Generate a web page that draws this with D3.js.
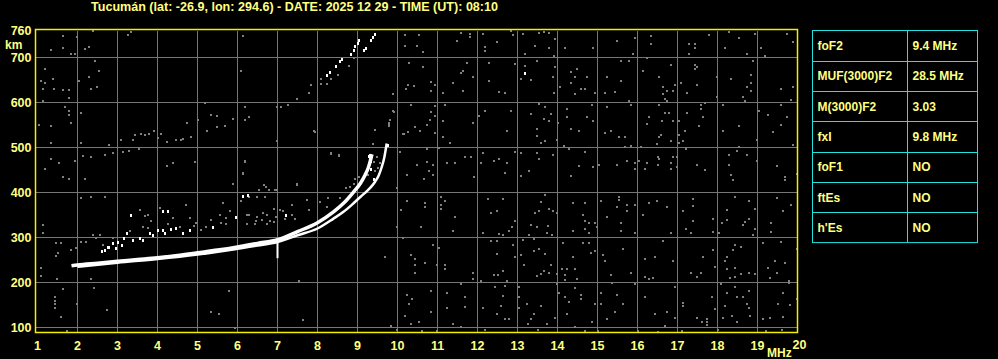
<!DOCTYPE html>
<html>
<head>
<script src="https://d3js.org/d3.v7.min.js"></script>
<style>
  body{margin:0;background:#000;}
  svg{display:block;}
  text{font-family:"Liberation Sans",Arial,sans-serif;font-weight:bold;fill:#ffff80;}
</style>
</head>
<body>
<svg id="chart" width="998" height="359"></svg>
<script>
// ---- data ----
const titleText = "Tucumán (lat: -26.9, lon: 294.6) - DATE: 2025 12 29 - TIME (UT): 08:10";
const xTicks = [1,2,3,4,5,6,7,8,9,10,11,12,13,14,15,16,17,18,19,20];
const yTicks = [100,200,300,400,500,600,700];
const yTop = 760;

const paramNames  = ["foF2","MUF(3000)F2","M(3000)F2","fxI","foF1","ftEs","h'Es"];
const paramValues = ["9.4 MHz","28.5 MHz","3.03","9.8 MHz","NO","NO","NO"];

// ordinary trace [MHz, km]
const oTrace = [[1.85,237],[2.0,239],[2.5,243],[3.0,247],[3.5,251],[4.0,255],[4.5,260],[5.0,266],
  [5.5,272],[6.0,279],[6.5,287],[7.0,295],[7.5,313],[8.0,333],[8.4,357],[8.65,376],[8.9,401],
  [9.07,420],[9.19,439],[9.27,455],[9.32,470],[9.36,485]];
// extraordinary trace
const xTrace = [[2.0,235],[3.0,244],[4.0,252],[5.0,262],[6.0,275],[6.5,282],[7.0,290],[7.5,305],
  [8.0,320],[8.4,342],[8.65,357],[8.9,376],[9.07,390],[9.28,407],[9.44,424],[9.53,438],[9.6,455],
  [9.67,478],[9.73,509]];
// vertical spike at 7 MHz [MHz, kmFrom, kmTo]
const spike = [7.0,254,298];

// second hop (white)
const hopWhite = [[8.23,661],[8.3,668],[8.46,681],[8.57,693],[8.6,697],[8.83,708],[8.9,716],[8.94,725],
  [9.0,733],[9.03,739],[9.17,716],[9.2,720],[9.33,738],[9.38,745],[9.43,753],[9.3,483],[9.33,470],
  [9.75,505],[9.29,482]];
// spread echoes (white)
const spreadWhite = [[3.34,350],[3.23,310],[3.01,291],[2.88,287],[2.68,273],[2.76,280],[2.97,276],
  [3.15,299],[3.38,295],[3.55,299],[3.63,295],[3.8,310],[3.88,306],[4.01,317],[4.13,317],[4.18,310],
  [4.34,319],[4.47,321],[4.63,310],[4.8,317],[5.38,324],[5.97,345],[6.13,393],[6.26,395],[4.13,358],
  [4.26,358],[2.8,279],[3.1,283],[2.6,270],[13.19,666],[7.2,349],[9.33,452],[9.42,430]];

// gray echoes / noise [MHz, km]
const noiseGray = [
  // 1-10 MHz, upper
  [1.63,747],[1.33,717],[1.63,721],[1.83,708],[1.94,708],[1.98,745],[2.19,719],[2.28,724],[2.38,759],
  [3.25,749],[3.33,756],[6.13,747],[1.18,675],[1.08,647],[1.18,643],[1.38,653],[1.13,630],[1.42,630],
  [1.63,628],[1.78,627],[1.78,610],[1.13,603],[2.03,647],[2.28,656],[2.43,692],[2.53,671],[2.33,630],
  [2.48,634],[6.08,670],[7.83,638],[7.79,621],[7.48,608],[8.08,653],[8.33,653],[8.5,660],[8.79,682],
  [8.08,640],[8.23,640],[8.9,700],[9.2,722],
  [3.08,516],[3.38,517],[3.43,527],[3.58,530],[3.69,527],[3.79,530],[3.92,536],[4.08,530],[4.02,521],
  [4.23,512],[4.46,516],[4.58,516],[4.63,519],[4.83,524],[4.73,554],[5.02,560],[5.23,536],[5.33,573],
  [5.48,571],[5.48,545],[5.68,547],[5.88,564],[6.19,590],[6.29,567],[6.99,591],[7.08,590],[7.27,595],
  [1.03,551],[1.33,547],[1.33,510],[1.78,582],[1.78,573],[1.69,590],[1.83,554],[2.08,576],[2.08,510],
  [2.78,506],[2.69,484],[2.88,487],[3.14,490],[2.13,482],[2.33,479],[1.33,475],[1.53,465],[1.18,453],
  [1.94,470],[1.63,434],[1.78,430],[2.19,430],[4.23,460],[4.38,465],[4.94,467],[3.53,497],[3.28,492],
  [5.18,599],[6.18,471],[6.13,444],[5.88,420],[6.67,416],[6.98,514],[7.92,536],[8.33,487],[8.53,484],
  [7.48,420],[9.88,618],[9.88,582],[9.43,540],[9.38,508],[9.82,560],[9.78,548],[9.78,555],
  // 6-10 MHz, middle
  [6.28,568],[6.19,561],[7.94,535],[8.33,485],[8.54,481],[6.19,468],[6.13,442],[7.48,416],[8.82,413],
  [6.53,405],[6.78,405],[6.94,405],[6.48,390],[6.69,390],[7.73,383],[8.07,379],[8.23,368],[8.27,387],
  [8.57,387],[7.36,372],[7.78,361],[6.9,364],[7.07,361],[6.23,350],[6.48,346],[6.61,339],[6.73,350],
  [7.19,342],[7.36,350],[7.44,342],[6.9,335],[6.44,331],[6.23,331],[6.73,331],[9.03,435],[9.19,442],
  [9.33,450],[9.44,447],[9.4,468],[9.48,479],[9.44,538],[9.78,553],[9.9,579],[10.15,531],[10.07,490],
  [9.98,409],[9.98,324],[9.69,257],[8.9,420],[8.7,410],[8.95,430],[9.5,455],[9.55,465],[9.25,440],
  // spread F gray
  [2.09,291],[2.22,289],[2.38,306],[2.55,306],[2.63,284],[1.97,276],[1.84,273],[1.47,287],[1.59,287],
  [1.51,265],[1.47,258],[1.13,328],[1.13,310],[2.88,299],[3.63,324],[3.76,321],[3.84,336],[3.68,347],
  [3.55,361],[3.76,350],[4.05,365],[4.38,343],[4.55,324],[4.8,343],[4.72,373],[4.97,332],[5.09,317],
  [5.22,324],[5.34,339],[5.55,350],[5.72,343],[5.59,332],[5.8,358],[5.88,419],[6.09,380],[6.3,350],
  [6.47,336],[6.63,354],[6.8,336],[6.97,345],[7.13,358],[6.72,413],[6.97,406],[6.3,391],[5.63,376],
  [2.68,390],[2.34,390],[2.09,387],[2.45,300],[3.3,315],[4.25,330],[4.9,325],[5.7,330],
  // 1-10 MHz, lower
  [1.08,233],[1.08,215],[1.44,167],[1.44,159],[1.44,152],[1.44,144],[1.48,207],[1.63,185],[1.58,124],
  [1.73,92],[1.98,153],[2.33,207],[2.42,188],[2.73,139],[5.33,135],[5.54,130],[5.79,181],[5.94,98],
  [7.54,204],[7.63,116],[9.83,103],[9.98,94],
  // 10-15 MHz, upper
  [10.19,749],[10.53,751],[10.19,725],[10.48,725],[10.63,712],[11.58,755],[11.8,745],[11.8,752],
  [11.48,736],[12.13,752],[12.2,724],[12.2,714],[12.48,734],[12.83,759],[12.88,749],[13.13,753],
  [13.44,725],[13.53,755],[13.65,756],[13.78,754],[13.94,741],[13.79,721],[13.19,708],[13.92,703],
  [14.19,721],[14.88,721],
  [10.29,688],[10.63,679],[10.83,645],[10.94,638],[10.27,638],[10.42,636],[10.22,630],[10.83,625],
  [11.38,644],[11.59,666],[11.63,671],[11.73,688],[11.88,656],[11.63,625],[11.13,621],[12.28,688],
  [12.28,647],[12.54,623],[12.69,621],[12.93,686],[13.19,681],[13.09,653],[13.33,649],[13.48,692],
  [13.94,679],[13.88,656],[13.9,621],[14.33,667],[14.48,674],[14.44,656],[14.73,656],[14.07,634],
  [14.34,644],[14.59,629],[14.69,629],[14.44,619],[14.94,621],
  [10.34,595],[10.94,592],[10.84,580],[10.94,571],[10.8,562],[10.73,549],[10.44,545],[10.57,536],
  [10.13,529],[10.27,534],[10.94,532],[11.19,595],[11.13,559],[11.13,523],[11.3,510],[11.88,554],
  [12.03,570],[12.19,581],[12.84,581],[12.73,536],[13.33,575],[13.54,597],[13.69,590],[13.65,564],
  [13.83,575],[13.79,559],[13.48,541],[13.48,525],[13.59,510],[13.69,515],[13.98,517],[14.02,554],
  [14.23,586],[14.23,567],[14.34,541],[14.54,536],[14.73,567],[14.88,559],[14.87,595],[14.15,504],
  [10.73,497],[10.48,461],[10.73,467],[10.88,461],[10.78,447],[10.23,439],[10.88,439],[10.65,430],
  [11.03,499],[11.23,465],[11.44,465],[11.69,479],[11.83,479],[11.9,434],[12.13,487],[12.09,465],
  [12.4,471],[12.54,474],[12.73,465],[12.69,444],[12.94,490],[13.09,487],[13.48,487],[13.53,474],
  [13.29,447],[13.09,436],[13.88,484],[14.29,496],[14.69,490],[14.54,460],[14.33,436],[14.88,456],
  // 10-15 MHz, lower
  [10.23,381],[10.69,377],[10.69,368],[11.08,390],[11.08,372],[11.19,381],[11.08,363],[11.44,346],
  [11.38,315],[10.59,324],[10.09,361],[10.13,300],[12.25,385],[12.63,385],[12.34,355],[12.48,359],
  [12.94,337],[12.86,324],[12.78,314],[12.13,310],[12.54,307],[12.63,305],[13.69,394],[13.58,379],
  [13.43,355],[13.53,359],[13.79,363],[13.88,359],[13.98,355],[13.33,327],[13.48,324],[13.77,326],
  [13.73,310],[13.86,305],[13.29,305],[14.38,377],[14.69,377],[14.63,350],[14.69,337],[14.79,333],
  [14.94,333],[14.69,320],[14.79,309],[14.38,315],[14.98,324],
  [10.88,283],[11.03,276],[10.34,261],[10.44,252],[10.44,239],[10.44,221],[10.69,244],[10.98,240],
  [11.19,239],[11.19,230],[11.88,221],[11.88,207],[12.09,204],[12.34,292],[12.48,292],[12.88,283],
  [12.48,264],[12.94,257],[12.63,226],[12.4,216],[12.51,216],[12.73,204],[13.13,294],[13.4,296],
  [13.4,270],[13.54,274],[13.69,264],[13.09,261],[13.15,239],[13.48,215],[13.59,218],[13.65,226],
  [13.79,221],[13.84,239],[13.98,220],[14.13,288],[14.63,288],[14.79,288],[14.84,266],[14.38,257],
  [14.94,270],[14.12,231],[14.23,229],[14.18,216],[14.44,229],[14.48,207],[14.19,205],
  [10.23,172],[10.29,153],[10.19,125],[10.84,181],[10.37,164],[10.53,113],[10.83,135],[10.34,107],
  [11.23,176],[11.23,144],[11.38,107],[11.59,196],[11.69,167],[11.69,146],[11.58,101],[12.13,144],
  [12.44,190],[12.69,192],[12.63,170],[12.48,130],[12.59,147],[12.69,118],[12.78,118],[13.03,190],
  [13.03,168],[13.03,144],[13.23,152],[13.4,130],[13.59,147],[13.34,118],[13.26,107],[13.73,107],
  [13.94,122],[13.98,196],[14.04,176],[14.18,168],[14.29,157],[14.44,187],[14.59,172],[14.59,163],
  [14.94,153],[14.23,130],[14.44,101],[14.86,113],[10.6,92],[11.0,92],[12.2,94],[13.5,95],[14.7,93],
  // 15-20 MHz, upper
  [15.49,736],[15.93,744],[15.89,708],[16.33,747],[16.33,730],[17.29,730],[17.43,730],[17.43,721],
  [17.29,707],[17.79,751],[18.28,756],[18.18,721],[18.54,744],[18.74,708],[18.93,753],[19.08,721],
  [19.18,703],[19.74,753],[19.89,734],
  [15.58,692],[15.78,692],[16.14,671],[16.24,699],[16.83,684],[16.54,656],[15.24,656],[15.58,647],
  [15.18,621],[15.43,624],[15.78,603],[16.64,634],[16.64,619],[16.74,625],[16.89,625],[16.93,638],
  [16.68,608],[16.74,603],[17.08,644],[17.23,621],[17.43,684],[17.49,679],[17.43,675],[17.49,639],
  [17.98,656],[17.98,612],[18.34,653],[18.83,661],[18.84,644],[18.74,634],[18.83,625],[18.64,612],
  [18.68,603],[18.89,692],[19.58,630],[19.89,634],[19.83,606],
  [15.24,590],[15.83,595],[16.29,567],[16.24,553],[16.54,595],[16.68,576],[16.79,576],[16.6,559],
  [16.89,559],[17.04,559],[17.24,576],[17.58,595],[17.58,586],[17.68,599],[17.64,567],[17.54,547],
  [17.18,536],[17.04,527],[17.14,514],[17.04,510],[16.58,527],[16.54,523],[16.83,514],[16.49,507],
  [15.18,532],[15.33,536],[15.54,523],[15.68,523],[18.14,595],[18.54,547],[18.14,536],[19.03,581],
  [19.27,573],[19.58,595],[19.74,567],[19.58,551],[19.39,534],[18.99,517],[19.88,506],
  [15.68,501],[16.08,501],[15.83,504],[15.03,461],[15.49,461],[15.74,469],[15.93,465],[15.93,453],
  [16.03,469],[16.24,465],[16.18,453],[16.5,479],[16.54,475],[16.5,461],[16.83,465],[16.83,453],
  [16.89,479],[16.98,479],[16.98,456],[17.2,497],[17.49,461],[17.68,450],[18.28,484],[18.28,461],
  [18.49,492],[18.54,501],[18.74,484],[18.34,438],[18.39,427],[18.99,471],[19.49,460],[19.68,434],
  [19.68,427],[19.98,441],
  // 15-20 MHz, lower
  [15.08,381],[15.24,346],[15.48,368],[15.54,390],[15.54,383],[15.74,372],[15.74,359],[15.93,372],
  [15.58,333],[15.58,315],[15.93,310],[16.14,350],[16.29,377],[16.49,381],[16.74,368],[16.83,310],
  [17.14,359],[17.39,385],[17.39,370],[17.39,337],[17.2,320],[17.33,310],[17.89,341],[17.89,313],
  [18.04,310],[18.24,362],[18.24,340],[18.1,333],[18.43,390],[18.79,381],[18.93,363],[18.68,335],
  [18.63,327],[18.79,341],[18.93,320],[18.89,305],[19.33,333],[19.33,313],[19.49,387],[19.64,359],
  [19.83,372],
  [15.64,274],[15.14,261],[15.18,248],[15.33,216],[15.83,221],[16.18,252],[16.43,256],[16.18,213],
  [16.29,207],[16.39,210],[16.89,248],[16.64,293],[17.33,221],[17.49,213],[17.58,221],[17.64,257],
  [17.89,273],[17.93,235],[18.43,283],[18.39,272],[18.58,279],[18.24,257],[18.18,248],[18.23,231],
  [18.43,233],[18.58,220],[18.43,213],[18.31,210],[18.79,221],[18.93,218],[19.13,288],[19.58,290],
  [19.43,248],[19.68,244],[19.98,274],[19.27,233],[19.49,221],[19.31,209],[19.79,204],
  [15.37,198],[15.08,177],[15.49,172],[15.64,153],[15.08,153],[15.24,118],[15.43,135],[15.93,196],
  [16.18,168],[16.43,131],[16.74,135],[16.93,190],[16.93,121],[16.68,103],[17.14,147],[17.14,155],
  [17.6,113],[17.73,105],[17.73,112],[17.73,119],[17.85,168],[17.93,142],[17.49,122],[18.08,196],
  [18.23,177],[18.18,148],[18.43,190],[18.49,168],[18.64,168],[18.79,181],[18.74,152],[18.79,144],
  [18.81,125],[18.35,125],[18.13,121],[18.49,113],[19.13,118],[19.31,122],[19.52,153],[19.63,177],
  [19.81,150],[19.63,124],[19.98,164],[19.78,199],[15.0,92],[16.0,93],[16.5,91],[17.1,92],
  [18.0,94],[19.2,93],[19.6,95]
];

// ---- layout ----
const svg = d3.select("#chart");
const x = d3.scaleLinear().domain([1,20]).range([37.5,797.5]);
const y = d3.scaleLinear().domain([100,760]).range([327.5,30.5]);

svg.append("rect").attr("width",998).attr("height",359).attr("fill","#000");

// title
svg.append("text")
  .attr("x",91).attr("y",11)
  .attr("textLength",407).attr("lengthAdjust","spacingAndGlyphs")
  .style("font-size","12px")
  .text(titleText);

// grid
const grid = svg.append("g").attr("shape-rendering","crispEdges")
  .attr("stroke","#767676").attr("stroke-width",1);
grid.selectAll("line.v").data(xTicks.slice(1,-1)).join("line")
  .attr("class","v")
  .attr("x1",d=>x(d)).attr("x2",d=>x(d))
  .attr("y1",y(yTop)).attr("y2",332);
grid.selectAll("line.h").data(yTicks).join("line")
  .attr("class","h")
  .attr("x1",36).attr("x2",797)
  .attr("y1",d=>y(d)).attr("y2",d=>y(d));

// gray echoes
svg.append("g").attr("fill","#808080").attr("shape-rendering","crispEdges")
  .selectAll("rect").data(noiseGray).join("rect")
  .attr("x",d=>Math.round(x(d[0]))-1).attr("y",d=>Math.round(y(d[1]))-1)
  .attr("width",2).attr("height",2);

// white echoes
svg.append("g").attr("fill","#fff").attr("shape-rendering","crispEdges")
  .selectAll("rect").data(spreadWhite.concat(hopWhite)).join("rect")
  .attr("x",d=>Math.round(x(d[0]))-1).attr("y",d=>Math.round(y(d[1]))-1)
  .attr("width",2).attr("height",3);

// traces
const line = d3.line().x(d=>x(d[0])).y(d=>y(d[1])).curve(d3.curveMonotoneX);
svg.append("path").datum(xTrace).attr("d",line)
  .attr("fill","none").attr("stroke","#fff").attr("stroke-width",2.5);
svg.append("path").datum(oTrace).attr("d",line)
  .attr("fill","none").attr("stroke","#fff").attr("stroke-width",3.5);
svg.append("line")
  .attr("x1",x(spike[0])).attr("x2",x(spike[0]))
  .attr("y1",y(spike[1])).attr("y2",y(spike[2]))
  .attr("stroke","#fff").attr("stroke-width",2);

// frame
svg.append("rect")
  .attr("x",35.5).attr("y",29.5).attr("width",762).attr("height",303)
  .attr("fill","none").attr("stroke","#f0f000").attr("stroke-width",1.5);

// y labels
svg.selectAll("text.yl").data(yTicks.concat([yTop])).join("text")
  .attr("class","yl")
  .attr("x",31.5).attr("y",d=>y(d)+4.5)
  .attr("text-anchor","end")
  .style("font-size","12.5px")
  .text(d=>d);
svg.append("text").attr("x",5).attr("y",49)
  .style("font-size","12px").text("km");

// x labels
svg.selectAll("text.xl").data(xTicks).join("text")
  .attr("class","xl")
  .attr("x",d=>d===20 ? x(d)+2 : x(d)).attr("y",d=>d===20 ? 349 : 349.5)
  .attr("text-anchor","middle")
  .style("font-size","12.5px")
  .text(d=>d);
svg.append("text").attr("x",767).attr("y",357)
  .style("font-size","12px").text("MHz");

// parameter table
const tx0 = 812.5, tx1 = 907.5, tx2 = 977.5, ty0 = 30.5, rowH = 30.3;
const table = svg.append("g");
table.append("rect")
  .attr("x",tx0).attr("y",ty0).attr("width",tx2-tx0).attr("height",rowH*paramNames.length)
  .attr("fill","none").attr("stroke","#22e0e0").attr("stroke-width",1);
table.append("line").attr("x1",tx1).attr("x2",tx1)
  .attr("y1",ty0).attr("y2",ty0+rowH*paramNames.length)
  .attr("stroke","#22e0e0");
table.selectAll("line.row").data(paramNames.slice(1)).join("line")
  .attr("class","row")
  .attr("x1",tx0).attr("x2",tx2)
  .attr("y1",(d,i)=>Math.round(ty0+rowH*(i+1))+0.5)
  .attr("y2",(d,i)=>Math.round(ty0+rowH*(i+1))+0.5)
  .attr("stroke","#22e0e0");
table.selectAll("text.pn").data(paramNames).join("text")
  .attr("class","pn")
  .attr("x",tx0+5).attr("y",(d,i)=>ty0+rowH*i+rowH/2+4.5)
  .style("font-size","12px")
  .text(d=>d);
table.selectAll("text.pv").data(paramValues).join("text")
  .attr("class","pv")
  .attr("x",tx1+5).attr("y",(d,i)=>ty0+rowH*i+rowH/2+4.5)
  .style("font-size","12px")
  .text(d=>d);
</script>
</body>
</html>
